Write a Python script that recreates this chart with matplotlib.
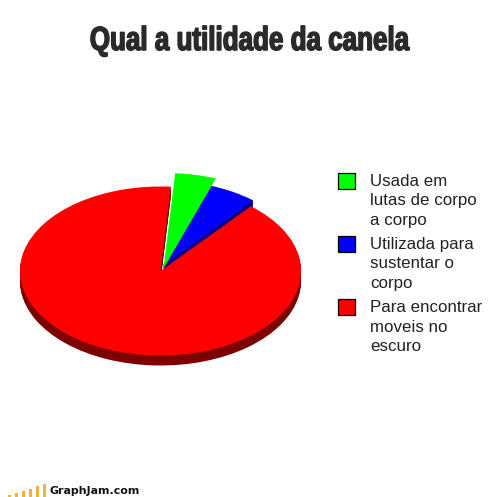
import matplotlib
matplotlib.use("Agg")
import matplotlib.pyplot as plt
from matplotlib.patches import Rectangle
from matplotlib.transforms import Affine2D
import matplotlib.patheffects as pe

W, H = 504, 497
title = "Qual a utilidade da canela"
labels = ["Usada em\nlutas de corpo\na corpo", "Utilizada para\nsustentar o\ncorpo", "Para encontrar\nmoveis no\nescuro"]
values = [4.2, 5.75, 90.05]
colors = ["#00ff00", "#0000ff", "#ff0000"]
side_colors = ["#008000", "#000080", "#7c0000"]
logo_heights = [2, 4, 6, 8.5, 11, 13]
logo_text = "GraphJam.com"

fig = plt.figure(figsize=(W / 100, H / 100), dpi=100, facecolor="white")
ax = fig.add_axes([0, 0, 1, 1])

cx, cy, a, b = 160.5, 271.0, 140.5, 84.5
start = 85.8
depth = 10


def layer(only, cols, off=0.0, radius=1.0, center=(0.0, 0.0)):
    wedges, _ = ax.pie(values, colors=cols, startangle=start,
                       counterclock=False, radius=radius,
                       center=(center[0], center[1] - off / b),
                       wedgeprops={"linewidth": 0})
    for i, w in enumerate(wedges):
        if i != only:
            w.set_visible(False)


blue_center = (2.5 / a, 5.8 / b)
for d in range(depth, 0, -1):
    layer(2, side_colors, off=d)
for d in range(9, 0, -1):
    layer(1, side_colors, off=d, center=blue_center)
layer(1, colors, center=blue_center)
layer(2, colors)
layer(0, colors, radius=1.13, center=(3.0 / a, 2.5 / b))

ax.set_aspect("auto")
ax.set_xlim(-cx / a, (W - cx) / a)
ax.set_ylim(-(H - cy) / b, cy / b)
ax.axis("off")


def X(p):
    return p / W


def Y(p):
    return 1 - p / H


class Squeeze(pe.AbstractPathEffect):
    """Narrow the glyph outlines horizontally around a pixel column, fattening them."""

    def __init__(self, sx, x0, lw, color):
        super().__init__()
        self.sx, self.x0, self.lw, self.color = sx, x0, lw, color

    def draw_path(self, renderer, gc, tpath, affine, rgbFace=None):
        t = affine + Affine2D().translate(-self.x0, 0).scale(self.sx, 1).translate(self.x0, 0)
        gc0 = renderer.new_gc()
        gc0.copy_properties(gc)
        gc0.set_linewidth(self.lw)
        gc0.set_foreground(self.color)
        renderer.draw_path(gc0, tpath, t, rgbFace)
        gc0.restore()


fig.text(X(250), Y(50), title, ha="center", va="baseline", fontsize=24,
         family="Liberation Sans", weight="bold", color="#2a2a2a",
         path_effects=[Squeeze(0.78, 250, 1.1, "#2a2a2a")])

swatch_y = [173, 236, 299]
text_y = [201, 264, 327]
for sy, ty, lab, c in zip(swatch_y, text_y, labels, colors):
    fig.add_artist(Rectangle((X(338), Y(sy + 16)), 17 / W, 16 / H, transform=fig.transFigure,
                             facecolor=c, edgecolor="black", linewidth=0.9))
    fig.text(X(370), Y(ty), lab, ha="left", va="center", fontsize=12.2,
             family="Liberation Sans", color="#222222", linespacing=1.36)

for i, h in enumerate(logo_heights):
    fig.add_artist(Rectangle((X(8 + i * 7), Y(497)), 3.4 / W, h / H, transform=fig.transFigure,
                             facecolor="#f5b335", edgecolor="none"))
fig.text(X(49), Y(491), logo_text, ha="left", va="center", fontsize=7.9,
         family="DejaVu Sans", weight="bold", color="#111111")

fig.savefig("out.png", dpi=100, facecolor="white")
